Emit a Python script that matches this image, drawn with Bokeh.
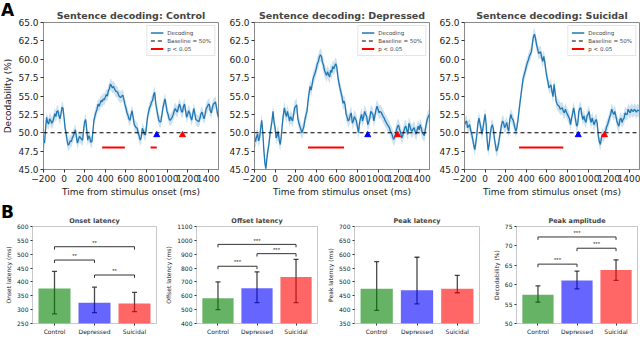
from bokeh.plotting import figure
from bokeh.layouts import column, row
from bokeh.models import (ColumnDataSource, FixedTicker, PrintfTickFormatter, Legend,
                          LegendItem, Whisker, TeeHead, Range1d, Div)
from bokeh.embed import file_html
from bokeh.resources import INLINE

FONT = "DejaVu Sans"

# ---------------- Panel A data ----------------
TIME = list(range(-200, 1501, 10))
CONTROL = [
    49.0, 48.6, 50.5, 52.1, 51.4, 51.2, 51.9, 51.7, 51.3, 51.5,
    52.0, 52.6, 52.2, 52.9, 53.0, 52.3, 51.9, 52.6, 53.5, 53.3,
    52.0, 50.6, 49.9, 48.9, 48.3, 48.5, 48.9, 48.8, 49.3, 49.6,
    50.0, 50.4, 49.4, 48.6, 49.1, 49.5, 49.3, 49.1, 49.0, 50.5,
    51.5, 51.8, 50.4, 49.0, 49.6, 49.3, 48.7, 48.8, 50.2, 51.7,
    52.3, 52.8, 53.2, 53.9, 53.6, 54.0, 54.4, 54.2, 54.6, 54.5,
    54.8, 55.2, 55.0, 55.7, 56.0, 56.6, 56.4, 56.1, 56.3, 56.0,
    55.7, 55.6, 55.5, 55.1, 54.9, 54.8, 55.0, 55.1, 54.6, 53.9,
    53.4, 52.8, 52.4, 51.9, 51.7, 52.4, 53.0, 52.2, 51.2, 50.9,
    50.7, 50.6, 50.0, 49.5, 49.0, 49.4, 50.6, 50.3, 49.8, 49.7,
    50.8, 52.1, 52.8, 53.4, 53.7, 54.2, 54.4, 55.2, 55.5, 54.0,
    53.2, 52.4, 51.7, 51.5, 51.5, 52.4, 53.4, 54.0, 54.6, 53.8,
    52.9, 52.5, 51.9, 51.7, 51.9, 52.1, 52.5, 53.0, 53.3, 53.0,
    52.8, 53.4, 53.9, 53.5, 52.9, 52.8, 53.6, 53.9, 53.0, 52.1,
    52.5, 53.0, 52.7, 52.1, 51.7, 52.5, 53.3, 52.6, 51.8, 51.7,
    51.6, 51.5, 52.0, 52.6, 52.8, 52.3, 51.9, 52.5, 53.3, 53.5,
    53.8, 53.9, 53.0, 52.7, 53.4, 53.9, 54.0, 54.2, 53.5, 52.6,
    52.1,
]
DEPRESSED = [
    49.3, 48.8, 49.5, 49.8, 48.9, 49.4, 50.6, 51.7, 50.2, 47.8,
    46.0, 45.1, 46.5, 47.6, 48.4, 49.8, 50.7, 51.6, 52.9, 51.4,
    50.7, 49.3, 49.6, 50.2, 49.0, 48.4, 49.5, 51.1, 52.4, 53.4,
    52.7, 52.2, 52.9, 52.3, 51.6, 52.2, 51.9, 51.6, 52.5, 53.4,
    53.6, 53.8, 52.0, 51.4, 50.9, 50.5, 50.0, 50.4, 50.9, 51.8,
    52.4, 52.9, 54.3, 55.4, 56.3, 55.8, 56.6, 57.4, 57.8, 58.2,
    58.7, 59.4, 59.7, 60.3, 60.6, 60.4, 59.6, 59.2, 58.5, 58.1,
    57.8, 58.3, 57.9, 57.6, 58.5, 58.2, 59.0, 58.7, 59.1, 59.4,
    58.9, 57.6, 56.8, 56.1, 55.5, 54.9, 54.0, 54.3, 53.8, 52.5,
    52.1, 51.6, 51.8, 52.4, 52.7, 51.3, 51.6, 52.2, 51.9, 51.6,
    50.8, 50.0, 51.3, 52.0, 52.5, 51.6, 52.2, 52.9, 52.5, 52.2,
    51.1, 51.5, 52.0, 52.9, 52.7, 52.5, 51.6, 52.4, 53.1, 53.6,
    53.2, 52.7, 52.9, 52.8, 52.5, 52.2, 52.0, 51.6, 51.4, 51.1,
    50.9, 50.7, 50.2, 50.0, 49.6, 49.1, 49.3, 49.8, 50.4, 50.9,
    51.0, 50.4, 50.0, 49.3, 49.6, 50.2, 50.7, 50.9, 50.3, 49.8,
    51.3, 50.9, 50.4, 50.2, 50.5, 50.7, 50.2, 49.8, 50.4, 50.9,
    50.4, 51.1, 50.6, 50.0, 49.8, 49.6, 50.5, 51.3, 51.9, 52.2,
    52.5,
]
SUICIDAL = [
    51.1, 51.4, 51.6, 50.7, 50.9, 51.1, 50.3, 49.8, 49.1, 48.3,
    47.7, 48.6, 49.8, 51.2, 52.0, 51.3, 50.6, 49.8, 50.7, 51.6,
    52.5, 51.2, 49.0, 47.6, 48.4, 49.8, 50.7, 51.1, 50.6, 49.2,
    48.4, 47.5, 47.8, 48.4, 49.4, 50.2, 51.1, 51.6, 51.3, 50.7,
    51.0, 51.4, 50.6, 50.2, 51.8, 52.5, 52.0, 51.8, 51.3, 50.6,
    50.2, 50.8, 51.8, 53.0, 54.2, 55.3, 56.4, 57.4, 57.9, 58.4,
    59.0, 59.5, 59.9, 60.4, 60.7, 61.0, 62.2, 63.1, 63.4, 62.8,
    62.0, 61.4, 60.8, 60.9, 61.0, 60.2, 59.7, 60.4, 59.6, 58.5,
    57.6, 57.0, 56.1, 56.3, 56.5, 55.6, 54.9, 56.6, 55.5, 54.3,
    53.9, 53.7, 53.6, 53.2, 53.3, 53.4, 52.9, 52.7, 53.2, 52.8,
    52.5, 52.2, 51.9, 51.1, 52.0, 52.6, 53.4, 52.6, 51.6, 50.9,
    51.2, 52.9, 53.3, 53.4, 52.4, 51.8, 52.3, 51.7, 51.4, 52.3,
    52.5, 52.9, 51.9, 51.4, 52.0, 51.5, 51.1, 51.6, 51.8, 51.2,
    49.5, 48.8, 48.4, 49.3, 49.8, 49.5, 49.9, 50.2, 50.8, 51.1,
    51.6, 52.1, 52.5, 53.2, 52.8, 52.5, 52.9, 52.3, 51.6, 51.2,
    50.9, 51.8, 52.0, 51.4, 51.8, 52.0, 52.7, 52.5, 52.5, 53.2,
    52.9, 52.7, 53.2, 53.0, 52.9, 53.2, 53.0, 52.8, 53.1, 53.0,
    53.0,
]
GROUPS = ["Control", "Depressed", "Suicidal"]
SERIES = [CONTROL, DEPRESSED, SUICIDAL]
SEM = [0.8, 0.9, 0.85]
SIG_START = [[370, 840], [320], [330]]
SIG_END = [[590, 900], [670], [760]]
SIG_LEVEL = 48.0
BASELINE = 50.0
ONSET_MARK = [900, 900, 905]
OFFSET_MARK = [1150, 1190, 1160]
MARK_LEVEL = 49.7
A_XTICKS = [-200, 0, 200, 400, 600, 800, 1000, 1200, 1400]
A_YTICKS = [45.0, 47.5, 50.0, 52.5, 55.0, 57.5, 60.0, 62.5, 65.0]

# ---------------- Panel B data ----------------
CATEGORIES = ["Control", "Depressed", "Suicidal"]
BAR_COLORS = ["green", "blue", "red"]
ONSET_MEAN = [376, 325, 322]
ONSET_LO = [285, 289, 293]
ONSET_HI = [438, 381, 362]
OFFSET_MEAN = [582, 655, 736]
OFFSET_LO = [500, 550, 550]
OFFSET_HI = [700, 773, 863]
PEAKLAT_MEAN = [475, 470, 475]
PEAKLAT_LO = [397, 421, 461]
PEAKLAT_HI = [573, 589, 524]
PEAKAMP_MEAN = [57.4, 61.1, 63.8]
PEAKAMP_LO = [55.5, 58.9, 61.1]
PEAKAMP_HI = [59.7, 63.5, 66.4]
ONSET_BRACKETS = [(0, 1, 479, "**"), (1, 2, 425, "**"), (0, 2, 527, "**")]
OFFSET_BRACKETS = [(0, 1, 813, "***"), (1, 2, 904, "***"), (0, 2, 971, "***")]
PEAKAMP_BRACKETS = [(0, 1, 65.3, "***"), (1, 2, 69.4, "***"), (0, 2, 72.3, "***")]


def panel_letter(text, top):
    html = ('<div style="font-family: \'DejaVu Sans\'; font-weight: bold; '
            'font-size: 17px; line-height: 20px; color: black; padding-left: 1px;">%s</div>' % text)
    return Div(text=html, width=16, height=22, margin=(top, -16, 0, 0))


def style_axes(p, line_color, tick_size, label_size):
    p.xgrid.grid_line_color = None
    p.ygrid.grid_line_color = None
    p.outline_line_color = line_color
    p.background_fill_color = "white"
    p.border_fill_alpha = 0.0
    for ax in (p.xaxis[0], p.yaxis[0]):
        ax.axis_line_color = line_color
        ax.major_tick_line_color = "#333333"
        ax.major_tick_out = 3
        ax.major_tick_in = 0
        ax.minor_tick_line_color = None
        ax.major_label_text_font = FONT
        ax.major_label_text_font_size = tick_size
        ax.major_label_text_color = "#222222"
        ax.major_label_standoff = 2
        ax.axis_label_text_font = FONT
        ax.axis_label_text_font_size = label_size
        ax.axis_label_text_font_style = "normal"
        ax.axis_label_text_color = "#222222"
        ax.axis_label_standoff = 2


def top_fig(idx, width, left, right):
    name = GROUPS[idx]
    vals = SERIES[idx]
    sem = SEM[idx]
    p = figure(width=width, height=199, x_range=Range1d(TIME[0], TIME[-1]),
               y_range=Range1d(A_YTICKS[0], A_YTICKS[-1]),
               output_backend="svg", toolbar_location=None,
               min_border_left=left, min_border_right=right,
               min_border_top=22, min_border_bottom=28)
    p.title.text = "Sentence decoding: " + name
    p.title.align = "center"
    p.title.text_font = FONT
    p.title.text_font_size = "9.5px"
    p.title.text_font_style = "bold"
    p.title.standoff = 4
    style_axes(p, "#8a8a8a", "9px", "9px")
    p.xaxis.ticker = FixedTicker(ticks=A_XTICKS)
    p.yaxis.ticker = FixedTicker(ticks=A_YTICKS)
    p.yaxis.formatter = PrintfTickFormatter(format="%.1f")
    p.xaxis.axis_label = "Time from stimulus onset (ms)"
    if idx == 0:
        p.yaxis.axis_label = "Decodability (%)"

    src = ColumnDataSource(dict(t=TIME, v=vals,
                                lo=[v - sem for v in vals],
                                hi=[v + sem for v in vals]))
    p.varea(x="t", y1="lo", y2="hi", source=src, fill_color="#1f77b4", fill_alpha=0.22)
    r_dec = p.line("t", "v", source=src, line_color="#1f77b4", line_width=1.3)
    r_base = p.line(x=[TIME[0], TIME[-1]], y=[BASELINE, BASELINE], line_color="black",
                    line_dash="4 3", line_width=1.2)
    n = len(SIG_START[idx])
    r_sig = p.segment(x0=SIG_START[idx], y0=[SIG_LEVEL] * n, x1=SIG_END[idx],
                      y1=[SIG_LEVEL] * n, line_color="red", line_width=2)
    p.scatter(x=[ONSET_MARK[idx]], y=[MARK_LEVEL], marker="triangle", size=6,
              fill_color="blue", line_color="blue")
    p.scatter(x=[OFFSET_MARK[idx]], y=[MARK_LEVEL], marker="triangle", size=6,
              fill_color="red", line_color="red")

    legend = Legend(items=[LegendItem(label="Decoding", renderers=[r_dec]),
                           LegendItem(label="Baseline = 50%", renderers=[r_base]),
                           LegendItem(label="p < 0.05", renderers=[r_sig])],
                    location="top_right")
    legend.label_text_font = FONT
    legend.label_text_font_size = "5.5px"
    legend.label_height = 7
    legend.glyph_height = 7
    legend.glyph_width = 13
    legend.label_standoff = 4
    legend.spacing = 1
    legend.padding = 3
    legend.margin = 3
    legend.border_line_color = "#cccccc"
    legend.background_fill_alpha = 0.85
    p.add_layout(legend)
    return p


def bar_fig(title, ylabel, means, lo, hi, yticks, brackets, width, left, right):
    xs = list(range(len(CATEGORIES)))
    ymin, ymax = yticks[0], yticks[-1]
    q = figure(width=width, height=138, x_range=Range1d(-0.55, 2.55),
               y_range=Range1d(ymin, ymax), output_backend="svg", toolbar_location=None,
               min_border_left=left, min_border_right=right, min_border_top=27,
               min_border_bottom=13)
    q.title.text = title
    q.title.align = "center"
    q.title.text_font = FONT
    q.title.text_font_size = "6.5px"
    q.title.text_font_style = "bold"
    q.title.standoff = 3
    style_axes(q, "#c8c8c8", "6px", "6px")
    q.xaxis.major_tick_out = 2
    q.yaxis.major_tick_out = 2
    q.xaxis.axis_line_color = None
    q.yaxis.axis_line_color = None
    q.xaxis.ticker = FixedTicker(ticks=xs)
    q.xaxis.major_label_overrides = {i: c for i, c in enumerate(CATEGORIES)}
    q.yaxis.ticker = FixedTicker(ticks=yticks)
    q.yaxis.axis_label = ylabel

    src = ColumnDataSource(dict(x=xs, top=means, lo=lo, hi=hi, color=BAR_COLORS))
    q.vbar(x="x", top="top", bottom=ymin, width=0.8, fill_color="color",
           fill_alpha=0.6, line_color=None, source=src)
    head = dict(size=5, line_color="#1a1a1a", line_width=1.3, line_alpha=0.8)
    q.add_layout(Whisker(base="x", lower="lo", upper="hi", source=src,
                         line_color="#1a1a1a", line_width=1.3, line_alpha=0.8,
                         upper_head=TeeHead(**head), lower_head=TeeHead(**head)))
    if brackets:
        d = (ymax - ymin) * 0.03
        bx = [[b[0], b[0], b[1], b[1]] for b in brackets]
        by = [[b[2] - d, b[2], b[2], b[2] - d] for b in brackets]
        q.multi_line(xs=bx, ys=by, line_color="#333333", line_width=1)
        q.text(x=[(b[0] + b[1]) / 2 for b in brackets], y=[b[2] + d * 0.3 for b in brackets],
               text=[b[3] for b in brackets], text_align="center", text_baseline="bottom",
               text_font_size="6px", text_color="#333333")
    return q


p1 = top_fig(0, 226, 43, 8)
p2 = top_fig(1, 210, 27, 7)
p3 = top_fig(2, 204, 27, 1)

q1 = bar_fig("Onset latency", "Onset latency (ms)", ONSET_MEAN, ONSET_LO, ONSET_HI,
             [250, 300, 350, 400, 450, 500, 550, 600], ONSET_BRACKETS, 162, 32, 6)
q2 = bar_fig("Offset latency", "Offset latency (ms)", OFFSET_MEAN, OFFSET_LO, OFFSET_HI,
             [400, 500, 600, 700, 800, 900, 1000, 1100], OFFSET_BRACKETS, 160, 30, 5)
q3 = bar_fig("Peak latency", "Peak latency (ms)", PEAKLAT_MEAN, PEAKLAT_LO, PEAKLAT_HI,
             [350, 400, 450, 500, 550, 600, 650, 700], [], 162, 32, 5)
q4 = bar_fig("Peak amplitude", "Decodability (%)", PEAKAMP_MEAN, PEAKAMP_LO, PEAKAMP_HI,
             [50, 55, 60, 65, 70, 75], PEAKAMP_BRACKETS, 156, 32, 3)

layout = column(row(panel_letter("A", 0), p1, p2, p3),
                row(panel_letter("B", 3), q1, q2, q3, q4))
open("out.html", "w").write(file_html(layout, INLINE))
